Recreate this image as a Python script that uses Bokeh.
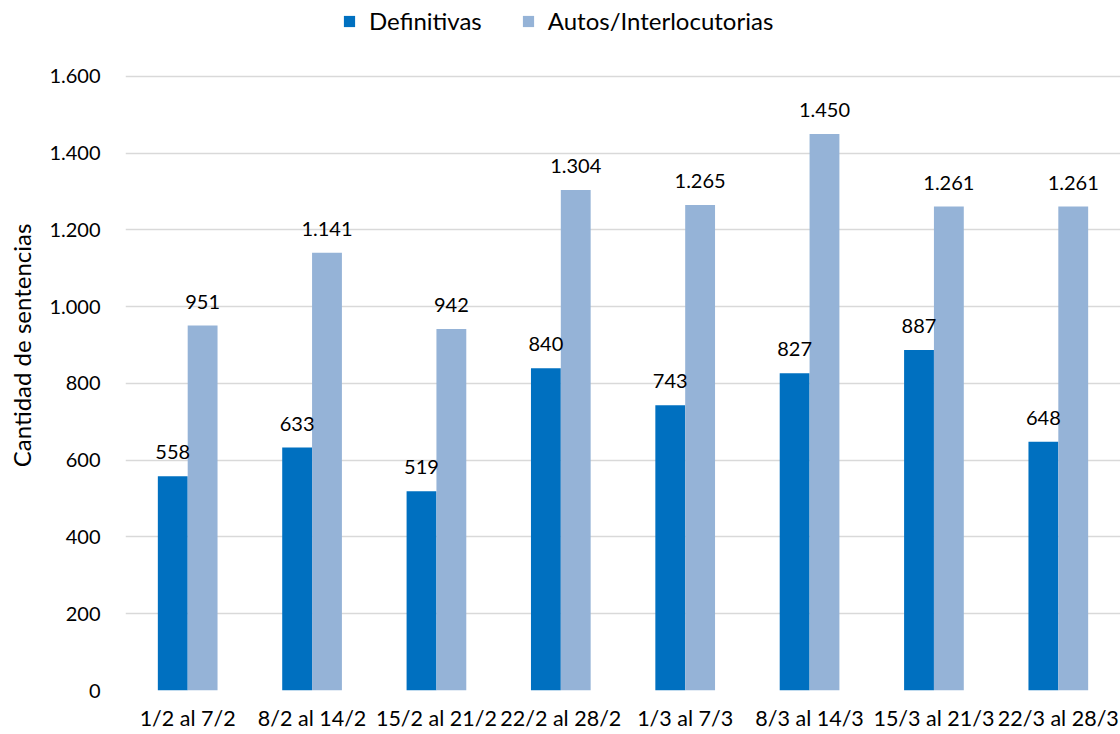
from bokeh.plotting import figure
from bokeh.models import Range1d, FixedTicker, Legend, LegendItem, ColumnDataSource
from bokeh.transform import dodge
from bokeh.core.properties import value
from bokeh.embed import file_html
from bokeh.resources import INLINE

categories = ["1/2 al 7/2", "8/2 al 14/2", "15/2 al 21/2", "22/2 al 28/2",
              "1/3 al 7/3", "8/3 al 14/3", "15/3 al 21/3", "22/3 al 28/3"]
definitivas = [558, 633, 519, 840, 743, 827, 887, 648]
autos = [951, 1141, 942, 1304, 1265, 1450, 1261, 1261]
series_names = ["Definitivas", "Autos/Interlocutorias"]
y_ticks = [0, 200, 400, 600, 800, 1000, 1200, 1400, 1600]
y_tick_labels = ["0", "200", "400", "600", "800", "1.000", "1.200", "1.400", "1.600"]
y_title = "Cantidad de sentencias"

COL_DEF = "#0070C0"
COL_AUT = "#95B3D7"
FONT = "Lato"
FS = "20px"


def fmt(v):
    return f"{v:,}".replace(",", ".")


src = ColumnDataSource(dict(
    cat=categories,
    definitivas=definitivas,
    autos=autos,
    def_lbl=[fmt(v) for v in definitivas],
    aut_lbl=[fmt(v) for v in autos],
))

p = figure(x_range=categories, y_range=Range1d(0, 1798), width=1120, height=734,
           output_backend="svg", toolbar_location=None,
           min_border_left=125, min_border_right=0, min_border_top=0, min_border_bottom=44)
p.outline_line_color = None
p.background_fill_color = "white"
p.border_fill_color = "white"

r1 = p.vbar(x=dodge("cat", -0.12, range=p.x_range), top="definitivas", width=0.24,
            source=src, fill_color=COL_DEF, line_color=None)
r2 = p.vbar(x=dodge("cat", 0.12, range=p.x_range), top="autos", width=0.24,
            source=src, fill_color=COL_AUT, line_color=None)

for col, off in (("def_lbl", -0.12), ("aut_lbl", 0.12)):
    ycol = "definitivas" if col == "def_lbl" else "autos"
    p.text(x=dodge("cat", off, range=p.x_range), y=ycol, text=col, source=src,
           text_align="center", text_baseline="alphabetic", y_offset=-24,
           text_font=value(FONT), text_font_size=FS, text_color="#000000")

# axes
p.yaxis.ticker = FixedTicker(ticks=y_ticks)
p.yaxis.major_label_overrides = {t: l for t, l in zip(y_ticks, y_tick_labels)}
p.yaxis.axis_line_color = None
p.yaxis.major_tick_line_color = None
p.yaxis.minor_tick_line_color = None
p.yaxis.major_tick_out = 0
p.yaxis.major_label_standoff = 25
p.yaxis.axis_label = y_title
p.yaxis.axis_label_standoff = 10
p.yaxis.axis_label_text_font = FONT
p.yaxis.axis_label_text_font_size = "24px"
p.yaxis.axis_label_text_font_style = "normal"
p.yaxis.axis_label_text_color = "#000000"

for ax in (p.xaxis, p.yaxis):
    ax.major_label_text_font = FONT
    ax.major_label_text_color = "#000000"
p.yaxis.major_label_text_font_size = FS
p.xaxis.major_label_text_font_size = "21.5px"

p.xaxis.axis_line_color = None
p.xaxis.major_tick_line_color = None
p.xaxis.minor_tick_line_color = None
p.xaxis.major_tick_out = 0
p.xaxis.major_tick_in = 0
p.xaxis.axis_label_standoff = 0
p.xaxis.major_label_standoff = 14

p.xgrid.grid_line_color = None
p.ygrid.grid_line_color = "#D9D9D9"
p.ygrid.grid_line_width = 1.5
p.ygrid.ticker = FixedTicker(ticks=y_ticks)

legend = Legend(items=[LegendItem(label=series_names[0], renderers=[r1]),
                       LegendItem(label=series_names[1], renderers=[r2])],
                orientation="horizontal", location=(217, 655),
                glyph_width=14, glyph_height=14, label_standoff=13, spacing=39,
                padding=4, margin=0, border_line_color=None, background_fill_alpha=0,
                label_text_font=FONT, label_text_font_size="24px", label_text_color="#000000")
p.add_layout(legend)

open("out.html", "w").write(file_html(p, INLINE))
